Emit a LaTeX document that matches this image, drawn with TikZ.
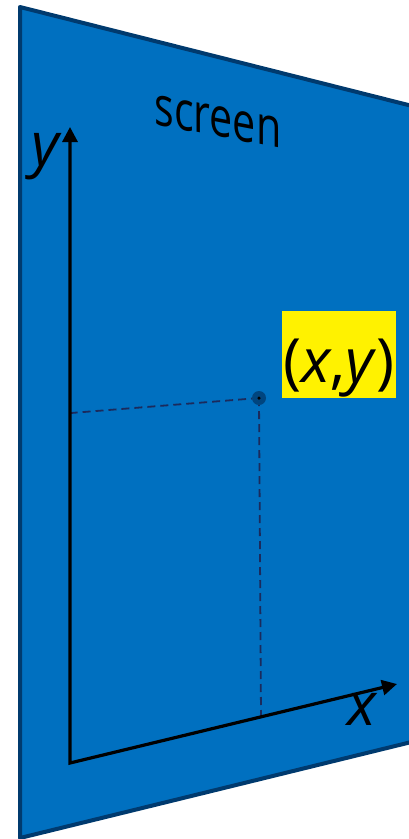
\documentclass[tikz,border=0pt]{standalone}
\usepackage{fontspec}
\setmainfont{Open Sans}
\usetikzlibrary{arrows.meta}
\definecolor{scrfill}{HTML}{0070C0}
\definecolor{scredge}{HTML}{003A6E}
\definecolor{dashc}{HTML}{1B2A5C}
\definecolor{dotc}{HTML}{00457F}
\begin{document}
\begin{tikzpicture}[x=1pt,y=-1pt,
  axis/.style={line width=3.2pt, line join=miter, {Triangle[length=15pt,width=15pt]}-{Triangle[length=15pt,width=15pt]}},
  guide/.style={dashc, line width=1.8pt, dash pattern=on 8pt off 5pt},
  lbl/.style={font=\fontsize{60}{60}\selectfont\itshape, inner sep=0pt, text=black},
  ptdot/.style={circle, fill=dotc, minimum size=14pt, inner sep=0pt},
  ptcore/.style={circle, fill=black, minimum size=3.5pt, inner sep=0pt}]
\useasboundingbox (0,0) rectangle (409,839);
\begin{scope}
\clip (0,0) rectangle (409,839);
\filldraw[fill=scrfill, draw=scredge, line width=4pt, line join=round]
  (20,7) -- (440,113) -- (440,735) -- (20,838) -- cycle;
\end{scope}
% screen label
\path (218,136.5) node[anchor=base, font=\fontsize{55}{55}\selectfont, inner sep=0pt, yslant=-0.19, xscale=0.75, transform shape] (scr) {screen};
% axes
\coordinate (O) at (70,763);
\coordinate (Yt) at (70,127);
\coordinate (Xt) at (397,684);
\coordinate (P) at (259,398);
\coordinate (Ya) at (71,413);
\coordinate (Xa) at (261,716);
\draw[guide] (P) -- (Ya);
\draw[guide] (P) -- (Xa);
\draw[axis] (Yt) -- (O) -- (Xt);
\node[ptdot] (pt) at (P) {};
\node[ptcore] (ptc) at (P) {};
\node[lbl, anchor=base] (ylab) at (45,165) {y};
\node[lbl, anchor=base] (xlab) at (362,725) {x};
\node[fill=yellow, inner sep=0pt, minimum width=114pt, text height=71pt, text depth=16pt,
  font=\fontsize{61}{61}\selectfont, text=black] (xy) at (339,354.5) {(\textit{x},\textit{y})};
\end{tikzpicture}
\end{document}
